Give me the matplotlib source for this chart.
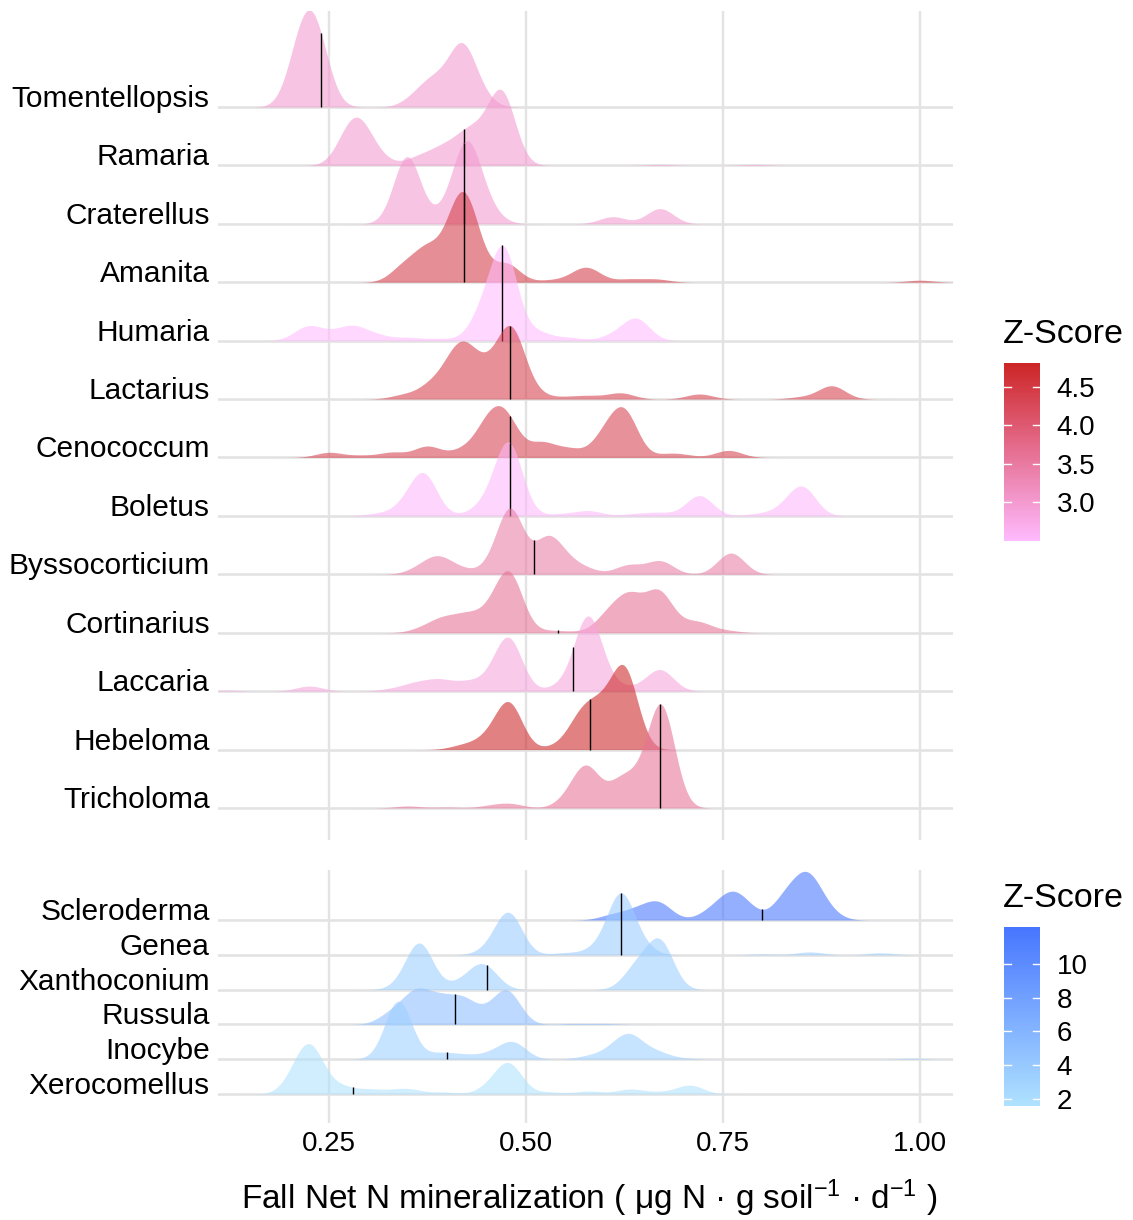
import numpy as np
import matplotlib
matplotlib.use("Agg")
import matplotlib.pyplot as plt
from matplotlib.colors import LinearSegmentedColormap, Normalize

plt.rcParams['font.family'] = ['Liberation Sans', 'DejaVu Sans']
plt.rcParams['mathtext.default'] = 'regular'

# ---------------------------------------------------------------- data
# kernel bandwidth shared by all ridges (units of N mineralization)
BW = 0.017
RIDGE_SCALE = 1.78

# Upper panel (top ridge first)
upper_genera = ["Tomentellopsis", "Ramaria", "Craterellus", "Amanita", "Humaria",
                "Lactarius", "Cenococcum", "Boletus", "Byssocorticium",
                "Cortinarius", "Laccaria", "Hebeloma", "Tricholoma"]
upper_z = [3.0, 3.0, 3.0, 4.45, 2.49, 4.4, 4.35, 2.55, 3.45, 3.65, 2.85, 4.82, 3.6]
upper_median = [0.240, 0.421, 0.421, 0.421, 0.470, 0.480, 0.480, 0.480,
                0.510, 0.540, 0.560, 0.581, 0.670]

tomentellopsis_x = [0.214, 0.234, 0.362, 0.385, 0.418, 0.44]
tomentellopsis_w = [54, 60, 10, 22, 56, 10]
ramaria_x = [0.275, 0.292, 0.315, 0.365, 0.395, 0.425, 0.448, 0.47, 0.67, 0.79]
ramaria_w = [26, 27, 5, 8, 15, 26, 17, 66, 1, 1]
craterellus_x = [0.349, 0.388, 0.418, 0.432, 0.455, 0.61, 0.67]
craterellus_w = [66, 5, 45, 42, 8, 7, 15]
amanita_x = [0.345, 0.375, 0.411, 0.429, 0.475, 0.53, 0.565, 0.58, 0.63, 0.665, 1.0]
amanita_w = [15, 30, 52, 50, 18, 2, 5, 11, 3, 3, 2]
humaria_x = [0.222, 0.25, 0.28, 0.31, 0.35, 0.39, 0.445, 0.472, 0.515, 0.555, 0.612, 0.64]
humaria_w = [13, 6, 13, 5, 3, 2, 25, 86, 8, 3, 5, 21]
lactarius_x = [0.345, 0.38, 0.41, 0.43, 0.458, 0.482, 0.51, 0.55, 0.58, 0.62, 0.72, 0.85, 0.888]
lactarius_w = [4, 13, 35, 30, 22, 62, 5, 2, 3, 6, 5, 2, 13]
cenococcum_x = [0.25, 0.29, 0.33, 0.375, 0.42, 0.452, 0.475, 0.52, 0.555, 0.6, 0.625, 0.68, 0.70, 0.757]
cenococcum_w = [5, 2, 5, 11, 7, 30, 34, 14, 8, 20, 42, 3, 2, 7]
boletus_x = [0.31, 0.345, 0.37, 0.44, 0.46, 0.479, 0.545, 0.58, 0.64, 0.67, 0.72, 0.795, 0.828, 0.851]
boletus_w = [2, 8, 40, 5, 12, 66, 2, 5, 2, 3, 20, 2, 6, 27]
byssocorticium_x = [0.365, 0.388, 0.415, 0.455, 0.48, 0.527, 0.55, 0.575, 0.63, 0.67, 0.76]
byssocorticium_w = [5, 15, 5, 5, 63, 33, 10, 5, 9, 13, 21]
cortinarius_x = [0.37, 0.395, 0.425, 0.455, 0.479, 0.53, 0.56, 0.605, 0.632, 0.668, 0.695, 0.72, 0.755]
cortinarius_w = [4, 12, 15, 15, 55, 2, 1, 17, 32, 38, 5, 9, 2]
laccaria_x = [0.12, 0.225, 0.33, 0.36, 0.39, 0.425, 0.455, 0.478, 0.545, 0.578, 0.60, 0.635, 0.67]
laccaria_w = [1, 5, 2, 7, 10, 8, 8, 50, 5, 70, 8, 3, 21]
hebeloma_x = [0.42, 0.45, 0.478, 0.54, 0.57, 0.595, 0.625]
hebeloma_w = [4, 9, 45, 3, 30, 32, 76]
tricholoma_x = [0.35, 0.40, 0.455, 0.48, 0.555, 0.577, 0.62, 0.645, 0.672]
tricholoma_w = [2, 1, 2, 4, 8, 38, 24, 18, 97]

# Lower panel (top ridge first)
lower_genera = ["Scleroderma", "Genea", "Xanthoconium", "Russula", "Inocybe", "Xerocomellus"]
lower_z = [12.2, 3.8, 3.6, 5.0, 3.5, 1.57]
lower_median = [0.800, 0.620, 0.450, 0.410, 0.400, 0.281]

scleroderma_x = [0.61, 0.64, 0.668, 0.735, 0.76, 0.78, 0.83, 0.857, 0.88]
scleroderma_w = [5, 9, 17, 8, 22, 10, 22, 40, 9]
genea_x = [0.455, 0.478, 0.55, 0.59, 0.62, 0.645, 0.80, 0.86, 0.95]
genea_w = [5, 42, 2, 6, 60, 8, 1, 3, 2]
xanthoconium_x = [0.345, 0.365, 0.41, 0.435, 0.45, 0.64, 0.67]
xanthoconium_w = [4, 46, 4, 12, 17, 22, 48]
russula_x = [0.33, 0.36, 0.39, 0.42, 0.45, 0.476, 0.56, 0.60]
russula_w = [11, 30, 22, 23, 8, 33, 1, 1]
inocybe_x = [0.338, 0.39, 0.42, 0.455, 0.483, 0.58, 0.61, 0.632, 0.665, 0.70, 0.99]
inocybe_w = [60, 6, 4, 5, 17, 3, 8, 22, 7, 1, 1]
xerocomellus_x = [0.21, 0.228, 0.265, 0.30, 0.325, 0.35, 0.395, 0.455, 0.478, 0.53, 0.58, 0.632, 0.67, 0.708]
xerocomellus_w = [18, 40, 7, 4, 2, 5, 2, 6, 30, 2, 3, 5, 2, 9]

upper_samples = [(tomentellopsis_x, tomentellopsis_w), (ramaria_x, ramaria_w),
                 (craterellus_x, craterellus_w), (amanita_x, amanita_w),
                 (humaria_x, humaria_w), (lactarius_x, lactarius_w),
                 (cenococcum_x, cenococcum_w), (boletus_x, boletus_w),
                 (byssocorticium_x, byssocorticium_w), (cortinarius_x, cortinarius_w),
                 (laccaria_x, laccaria_w), (hebeloma_x, hebeloma_w),
                 (tricholoma_x, tricholoma_w)]
lower_samples = [(scleroderma_x, scleroderma_w), (genea_x, genea_w),
                 (xanthoconium_x, xanthoconium_w), (russula_x, russula_w),
                 (inocybe_x, inocybe_w), (xerocomellus_x, xerocomellus_w)]

x_ticks = [0.25, 0.50, 0.75, 1.00]
x_tick_labels = ["0.25", "0.50", "0.75", "1.00"]
upper_bar_ticks = [3.0, 3.5, 4.0, 4.5]
lower_bar_ticks = [2, 4, 6, 8, 10]

# ---------------------------------------------------------------- styling
W, H = 1133, 1220
XLIM = (0.1091, 1.0419)
GRID_COLOR = '#e3e3e3'
FILL_ALPHA = 0.58
YLABEL_SIZE = 21.5
LABEL_SIZE = 20
TITLE_SIZE = 24.5

upper_cmap = LinearSegmentedColormap.from_list('upper_z', ['#FFBBFF', '#CD2626'])
lower_cmap = LinearSegmentedColormap.from_list('lower_z', ['#B0E2FF', '#4876FF'])


def rect(x0, y0, x1, y1):
    return [x0 / W, 1 - y1 / H, (x1 - x0) / W, (y1 - y0) / H]


def weighted_kde(centers, weights, grid):
    c = np.asarray(centers, float)[:, None]
    w = np.asarray(weights, float)[:, None]
    return (w * np.exp(-0.5 * ((grid[None, :] - c) / BW) ** 2)).sum(axis=0)


def draw_ridges(ax, genera, samples, zvals, medians, cmap, ylim):
    n = len(genera)
    grid = np.linspace(XLIM[0], XLIM[1], 1500)
    dens = [weighted_kde(cx, cw, grid) for cx, cw in samples]
    top = max(d.max() for d in dens)
    norm = Normalize(min(zvals), max(zvals))
    positions = [n - i for i in range(n)]

    for xv in x_ticks:
        ax.axvline(xv, color=GRID_COLOR, lw=1.7, zorder=0)
    for p in positions:
        ax.axhline(p, color=GRID_COLOR, lw=1.9, zorder=0)

    for i, (d, z, med, base) in enumerate(zip(dens, zvals, medians, positions)):
        h = d / top * RIDGE_SCALE
        ax.fill_between(grid, base, base + h, color=cmap(norm(z)),
                        alpha=FILL_ALPHA, lw=0, zorder=2 + 2 * i)
        mh = np.interp(med, grid, h)
        ax.plot([med, med], [base, base + mh], color='black', lw=1.0,
                solid_capstyle='butt', zorder=3 + 2 * i)

    ax.set_xlim(*XLIM)
    ax.set_ylim(*ylim)
    ax.set_yticks(positions)
    ax.set_yticklabels(genera)
    for lbl in ax.get_yticklabels():
        lbl.set_verticalalignment('baseline')
    ax.tick_params(axis='y', length=0, pad=6, labelsize=YLABEL_SIZE)
    for s in ax.spines.values():
        s.set_visible(False)
    ax.set_facecolor('white')
    return norm


def draw_colorbar(cax, cmap, norm, ticks, labels):
    zmin, zmax = norm.vmin, norm.vmax
    grad = np.linspace(zmin, zmax, 256)[:, None]
    cax.imshow(grad, cmap=cmap, norm=norm, aspect='auto', origin='lower',
               extent=[0, 1, zmin, zmax], interpolation='bilinear')
    for t in ticks:
        cax.plot([0, 0.2], [t, t], color='white', lw=1.0)
        cax.plot([0.8, 1.0], [t, t], color='white', lw=1.0)
    cax.set_xlim(0, 1)
    cax.set_ylim(zmin, zmax)
    cax.set_xticks([])
    cax.yaxis.tick_right()
    cax.set_yticks(ticks)
    cax.set_yticklabels(labels)
    cax.tick_params(axis='y', length=0, pad=12, labelsize=LABEL_SIZE)
    for s in cax.spines.values():
        s.set_visible(False)


fig = plt.figure(figsize=(W / 100, H / 100), dpi=100)
fig.patch.set_facecolor('white')

ax_top = fig.add_axes(rect(218, 11, 953, 840))
ax_bot = fig.add_axes(rect(218, 870, 953, 1123))

norm_top = draw_ridges(ax_top, upper_genera, upper_samples, upper_z, upper_median,
                       upper_cmap, (0.452, 14.643))
norm_bot = draw_ridges(ax_bot, lower_genera, lower_samples, lower_z, lower_median,
                       lower_cmap, (0.167, 7.437))

ax_top.set_xticks(x_ticks)
ax_top.tick_params(axis='x', length=0, labelbottom=False)
ax_bot.set_xticks(x_ticks)
ax_bot.set_xticklabels(x_tick_labels)
ax_bot.tick_params(axis='x', length=0, pad=6, labelsize=LABEL_SIZE)

fig.text(589.5 / W, 1 - 1209 / H,
         'Fall Net N mineralization ( \u03bcg N \u00b7 g soil$^{-1}$ \u00b7 d$^{-1}$ )',
         ha='center', va='baseline', fontsize=24)

# colour legends
cax_top = fig.add_axes(rect(1004, 362.7, 1040, 540.7))
draw_colorbar(cax_top, upper_cmap, norm_top, upper_bar_ticks,
              [f"{t:.1f}" for t in upper_bar_ticks])
fig.text(1003 / W, 1 - 343 / H, 'Z-Score', ha='left', va='baseline', fontsize=TITLE_SIZE)

cax_bot = fig.add_axes(rect(1004, 927, 1040, 1106))
draw_colorbar(cax_bot, lower_cmap, norm_bot, lower_bar_ticks,
              [str(t) for t in lower_bar_ticks])
fig.text(1003 / W, 1 - 907 / H, 'Z-Score', ha='left', va='baseline', fontsize=TITLE_SIZE)

fig.savefig('out.png', dpi=100, facecolor='white')
